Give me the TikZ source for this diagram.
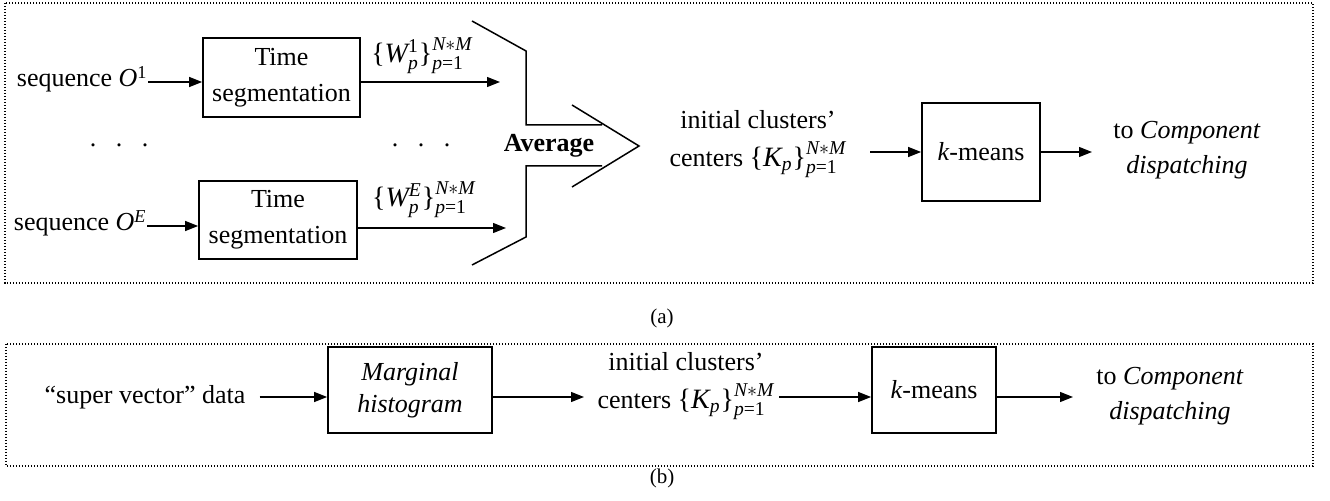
\documentclass[tikz,border=0pt]{standalone}
\usepackage{amsmath}
\usepackage{fontspec}
\setmainfont{Liberation Serif}
\usetikzlibrary{arrows.meta}
\newcommand{\ti}[1]{\textit{#1}}
\newcommand{\tx}[1]{\text{#1}}
\newcommand{\setlab}[2]{$\tx{\{}\ti{#1}_{\ti{p}}^{#2}\tx{\}}_{\ti{p}\tx{=1}}^{\ti{N}*\ti{M}}$}
\begin{document}
\begin{tikzpicture}[x=0.5pt,y=-0.5pt,
  txt/.style={font=\fontsize{13}{15.5}\selectfont, inner sep=0pt},
  mtxt/.style={font=\fontsize{14}{16}\selectfont, inner sep=0pt},
  procbox/.style={draw, line width=0.9pt, inner sep=0pt, align=center, font=\fontsize{13}{18}\selectfont},
  arr/.style={-{Triangle[length=6.5pt,width=5pt]}, line width=0.65pt},
  frame/.style={line width=0.7pt, dash pattern=on 0.7pt off 0.8pt},
  shapeline/.style={line width=0.75pt},
  caption/.style={font=\fontsize{10.5}{12}\selectfont, inner sep=0pt}]
\useasboundingbox (0,0) rectangle (1330,501);

% frames
\draw[frame] (5,3) rectangle (1313,283);
\draw[frame] (6,344) rectangle (1313,466);

% ---------------- (a) ----------------
\node[txt, anchor=base east] (seq1) at (148,87) {sequence \textit{O}\textsuperscript{1}};
\node[txt, anchor=base east] (seq2) at (147,231) {sequence \textit{O}\textsuperscript{\textit{E}}};

\node[procbox, minimum width=78.5pt, minimum height=39.5pt] (ts1) at (281.5,77.5) {Time\\segmentation};
\node[procbox, minimum width=79pt, minimum height=39pt] (ts2) at (278,220) {Time\\segmentation};

\coordinate (p1) at (148,82);
\coordinate (p2) at (147,226);
\draw[arr] (p1) -- (p1 -| ts1.west);
\draw[arr] (p2) -- (p2 -| ts2.west);

\node[txt] (dl) at (119,145) {.\hspace{9.75pt}.\hspace{9.75pt}.};
\node[txt] (dr) at (421,145) {.\hspace{9.75pt}.\hspace{9.75pt}.};

\coordinate (w1end) at (500,82);
\coordinate (w2end) at (506,228);
\draw[arr] (ts1.east |- w1end) -- (w1end);
\draw[arr] (ts2.east |- w2end) -- (w2end);

\node[mtxt] (w1) at (422,56) {\setlab{W}{\tx{1}}};
\node[mtxt] (w2) at (424,200) {\setlab{W}{\ti{E}}};

% Average shape
\draw[shapeline] (472,21) -- (526,51) -- (526,125) -- (602,125);
\draw[shapeline] (572,105) -- (639,146) -- (572,187);
\draw[shapeline] (602,166) -- (526,166) -- (526,237) -- (472,265);
\node[txt, font=\fontsize{13}{15.5}\selectfont\bfseries] (avg) at (549,146) {Average};

\node[txt] (ic1) at (758,120) {initial clusters’};
\node[txt] (ic2) at (758,160) {centers {\fontsize{14}{16}\selectfont$\tx{\{}\ti{K}_{\ti{p}}\tx{\}}_{\ti{p}\tx{=1}}^{\ti{N}*\ti{M}}$}};

\node[procbox, minimum width=59pt, minimum height=49pt] (km1) at (981,152) {\textit{k}-means};
\coordinate (k1s) at (870,152);
\coordinate (o1) at (1092,152);
\draw[arr] (k1s) -- (km1.west);
\draw[arr] (km1.east) -- (o1);

\node[txt, align=center, font=\fontsize{13}{17.5}\selectfont] (to1) at (1187,150.5) {to \textit{Component}\\\textit{dispatching}};

\node[caption] (capa) at (662,318) {(a)};

% ---------------- (b) ----------------
\node[txt] (sv) at (145,397) {“super vector” data};
\node[procbox, minimum width=82pt, minimum height=43pt, font=\fontsize{13}{16}\selectfont\itshape] (mh) at (410,390) {Marginal\\histogram};
\draw[arr] ([xshift=7pt]sv.east) -- (sv.east -| mh.west);

\coordinate (b1) at (584,397);
\draw[arr] (mh.east |- b1) -- (b1);

\node[txt] (ic3) at (686,362) {initial clusters’};
\node[txt] (ic4) at (686,402) {centers {\fontsize{14}{16}\selectfont$\tx{\{}\ti{K}_{\ti{p}}\tx{\}}_{\ti{p}\tx{=1}}^{\ti{N}*\ti{M}}$}};

\node[procbox, minimum width=62pt, minimum height=43pt] (km2) at (934,390) {\textit{k}-means};
\coordinate (b2s) at (779,397);
\draw[arr] (b2s) -- (b2s -| km2.west);
\coordinate (b3) at (1073,397);
\draw[arr] (km2.east |- b3) -- (b3);

\node[txt, align=center, font=\fontsize{13}{17.5}\selectfont] (to2) at (1170,396.5) {to \textit{Component}\\\textit{dispatching}};

\node[caption] (capb) at (662,478) {(b)};
\end{tikzpicture}
\end{document}
